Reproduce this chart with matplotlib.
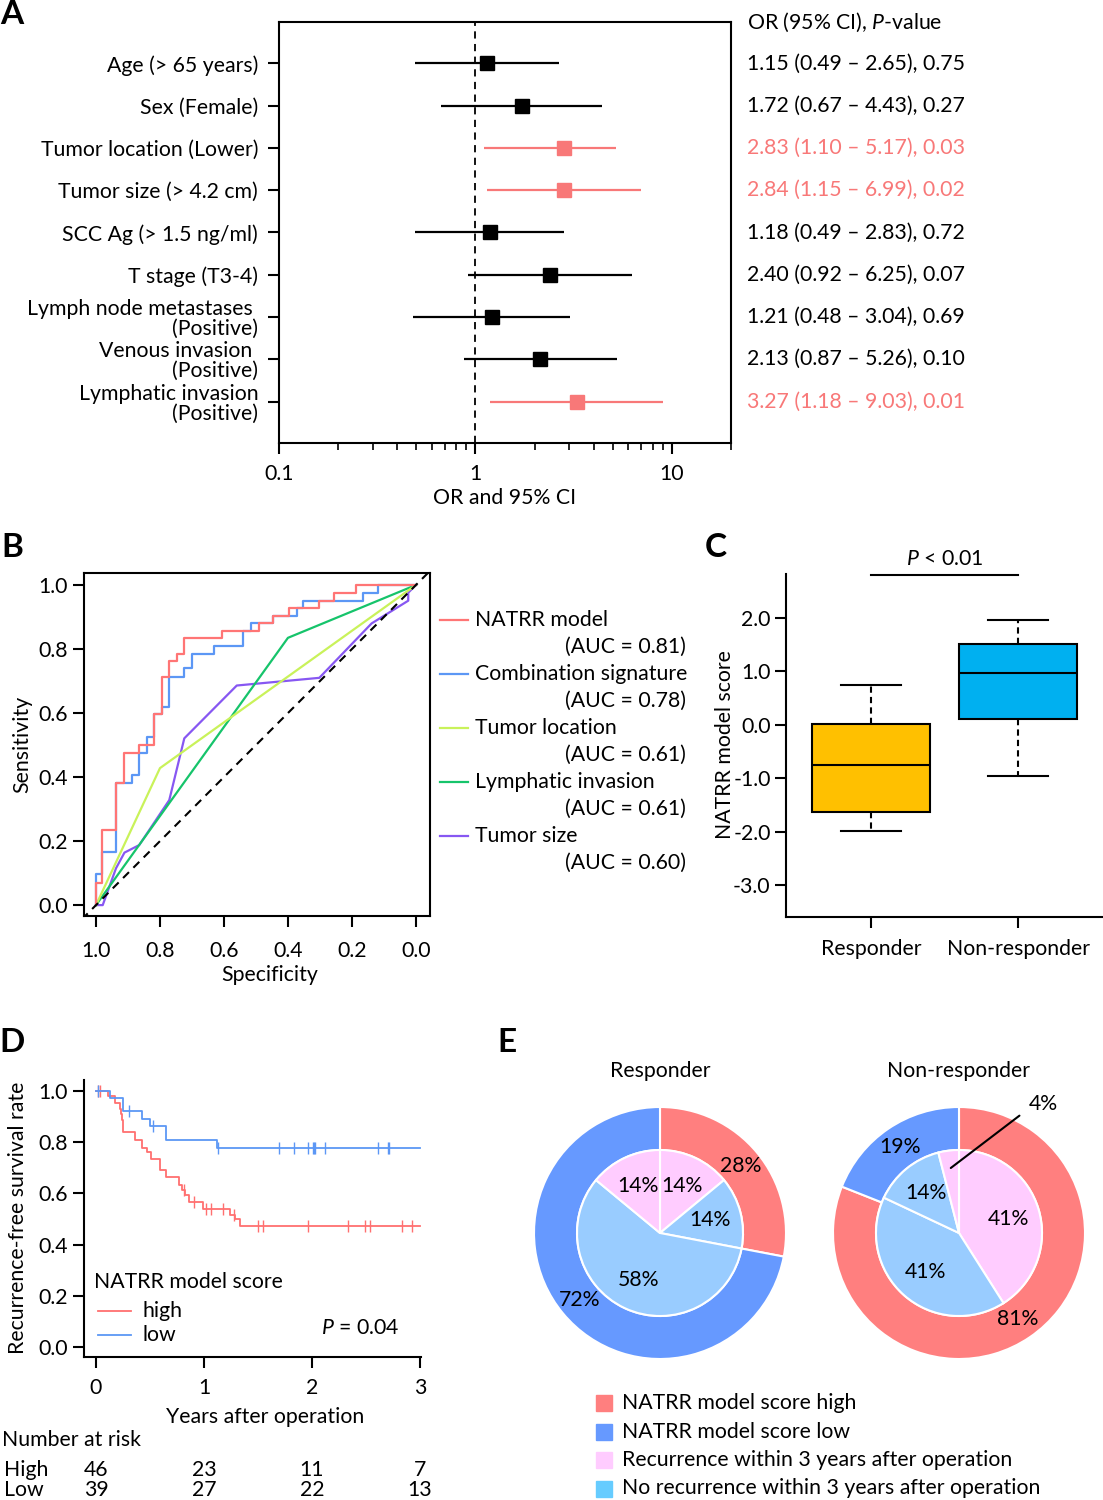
import numpy as np
import matplotlib
matplotlib.use('Agg')
import matplotlib.pyplot as plt
import matplotlib.transforms as mtransforms
from matplotlib.lines import Line2D
from matplotlib.patches import Rectangle

plt.rcParams['font.family'] = ['Lato', 'DejaVu Sans']
plt.rcParams['font.size'] = 15.3
plt.rcParams['mathtext.fontset'] = 'custom'
plt.rcParams['mathtext.rm'] = 'Lato'
plt.rcParams['mathtext.it'] = 'Lato:italic'
plt.rcParams['axes.linewidth'] = 1.5

# ---------------- data ----------------
# A: univariate odds ratios
factors = ['Age (> 65 years)', 'Sex (Female)', 'Tumor location (Lower)',
           'Tumor size (> 4.2 cm)', 'SCC Ag (> 1.5 ng/ml)', 'T stage (T3-4)',
           'Lymph node metastases \n(Positive)', 'Venous invasion \n(Positive)',
           'Lymphatic invasion\n(Positive)']
odds = [1.15, 1.72, 2.83, 2.84, 1.18, 2.40, 1.21, 2.13, 3.27]
ci_low = [0.49, 0.67, 1.10, 1.15, 0.49, 0.92, 0.48, 0.87, 1.18]
ci_high = [2.65, 4.43, 5.17, 6.99, 2.83, 6.25, 3.04, 5.26, 9.03]
pvals = ['0.75', '0.27', '0.03', '0.02', '0.72', '0.07', '0.69', '0.10', '0.01']

# B: ROC curves (false positive rate, sensitivity)
roc_names = ['NATRR model', 'Combination signature', 'Tumor location',
             'Lymphatic invasion', 'Tumor size']
roc_auc = ['0.81', '0.78', '0.61', '0.61', '0.60']
roc_colors = ['#ff7575', '#5c97f5', '#c9f25a', '#16c46b', '#8757f2']
natrr_fpr = [0, 0, 0.018, 0.0625, 0.089, 0.135, 0.181, 0.205, 0.229, 0.252,
             0.276, 0.393, 0.51, 0.554, 0.603, 0.698, 0.744, 0.8125, 1.0]
natrr_sens = [0, 0.07, 0.236, 0.38, 0.476, 0.5, 0.596, 0.714, 0.7625, 0.786,
              0.833, 0.857, 0.88, 0.904, 0.927, 0.951, 0.976, 1.0, 1.0]
comb_fpr = [0, 0, 0.018, 0.0625, 0.111, 0.135, 0.158, 0.181, 0.205, 0.229, 0.276,
            0.299, 0.370, 0.46, 0.483, 0.554, 0.627, 0.648, 0.835, 0.882, 1.0]
comb_sens = [0, 0.096, 0.167, 0.38, 0.406, 0.476, 0.524, 0.596, 0.62, 0.714, 0.74,
             0.786, 0.81, 0.857, 0.88, 0.904, 0.927, 0.951, 0.976, 1.0, 1.0]
loc_fpr = [0, 0.2, 1.0]
loc_sens = [0, 0.428, 1.0]
lymph_fpr = [0, 0.6, 1.0]
lymph_sens = [0, 0.835, 1.0]
size_fpr = [0, 0.021, 0.0625, 0.089, 0.135, 0.229, 0.276, 0.44, 0.698, 0.8615,
            0.976, 0.976, 1.0]
size_sens = [0, 0, 0.115, 0.164, 0.1875, 0.328, 0.521, 0.686, 0.71, 0.88,
             0.951, 0.976, 1.0]

# C: NATRR model score boxplot
box_groups = ['Responder', 'Non-responder']
box_q1 = [-1.63, 0.10]
box_med = [-0.75, 0.96]
box_q3 = [0.02, 1.51]
box_lo = [-1.99, -0.955]
box_hi = [0.74, 1.955]
box_colors = ['#ffc000', '#00b0f0']

# D: Kaplan-Meier recurrence-free survival
high_event_t = [0.114, 0.176, 0.222, 0.232, 0.243, 0.253, 0.361, 0.423, 0.469, 0.506,
                0.593, 0.648, 0.769, 0.793, 0.824, 0.861, 0.994, 1.241, 1.287, 1.333]
high_surv = [0.979, 0.955, 0.93, 0.91, 0.885, 0.84, 0.81, 0.779, 0.762, 0.736,
             0.691, 0.665, 0.632, 0.613, 0.594, 0.568, 0.538, 0.516, 0.5, 0.473]
high_cens = [0.022, 0.037, 0.815, 0.907, 1.019, 1.062, 1.173, 1.278, 1.503, 1.543,
             1.966, 2.336, 2.49, 2.537, 2.83, 2.923]
low_event_t = [0.13, 0.253, 0.423, 0.5, 0.648, 1.117]
low_surv = [0.974, 0.922, 0.892, 0.862, 0.808, 0.778]
low_cens = [0.02, 0.305, 0.525, 1.133, 1.691, 1.836, 1.966, 2.012, 2.022, 2.031,
            2.12, 2.614, 2.707, 2.716]
follow_up_end = 3.0
risk_times = [0, 1, 2, 3]
risk_high = [46, 23, 11, 7]
risk_low = [39, 27, 22, 13]

# E: nested pies
resp_outer = [28, 72]
resp_inner = [14, 14, 58, 14]
nonresp_outer = [81, 19]
nonresp_inner = [41, 41, 14, 4]
outer_colors = ['#ff7f7f', '#6699ff']
inner_colors = ['#ffccff', '#99ccff', '#99ccff', '#ffccff']
legend_E = ['NATRR model score high', 'NATRR model score low',
            'Recurrence within 3 years after operation',
            'No recurrence within 3 years after operation']
legend_E_colors = ['#ff7f7f', '#6699ff', '#ffccff', '#66ccff']

RED = '#f87878'
W, H = 1103, 1500
fig = plt.figure(figsize=(W / 100, H / 100), dpi=100)


def rect(l, t, r, b):
    return [l / W, 1 - b / H, (r - l) / W, (b - t) / H]


def ftxt(x, y, s, **kw):
    kw.setdefault('va', 'center')
    return fig.text(x / W, 1 - y / H, s, **kw)


# ---------------- A ----------------
axA = fig.add_axes(rect(279, 22, 731, 443))
rows = np.arange(len(factors))
for i in rows:
    c = RED if float(pvals[i]) < 0.05 else 'black'
    axA.plot([ci_low[i], ci_high[i]], [i, i], color=c, lw=1.6, solid_capstyle='butt')
    axA.plot(odds[i], i, 's', color=c, ms=9.5)
axA.axvline(1, color='black', ls=(0, (4, 3)), lw=1.3)
axA.set_xscale('log')
axA.set_xlim(0.1, 20)
axA.set_ylim(len(factors) - 0.02, -0.98)
axA.set_xticks([0.1, 1, 10])
axA.set_xticklabels(['0.1', '1', '10'])
axA.set_yticks(rows)
axA.set_yticklabels(factors, linespacing=1.0)
axA.tick_params(axis='both', which='major', direction='out', length=8, width=1.5, pad=7)
axA.tick_params(axis='x', which='minor', direction='out', length=5, width=1.2)
axA.tick_params(axis='y', which='minor', left=False)
trA = mtransforms.blended_transform_factory(fig.transFigure, axA.transData)
for i in rows:
    c = RED if float(pvals[i]) < 0.05 else 'black'
    axA.text(747 / W, i, f'{odds[i]:.2f} ({ci_low[i]:.2f} – {ci_high[i]:.2f}), {pvals[i]}',
             transform=trA, color=c, va='center', ha='left')
ftxt(747, 22, 'OR (95% CI), $P$-value', ha='left')
ftxt(505, 498, 'OR and 95% CI', ha='center')

# ---------------- B ----------------
axB = fig.add_axes(rect(84, 573, 430, 916))
roc_curves = [(natrr_fpr, natrr_sens, 'steps-post'), (comb_fpr, comb_sens, 'steps-post'),
              (loc_fpr, loc_sens, 'default'), (lymph_fpr, lymph_sens, 'default'),
              (size_fpr, size_sens, 'default')]
for k in [4, 3, 2, 1, 0]:
    fpr, sens, ds = roc_curves[k]
    axB.plot(1 - np.array(fpr), sens, color=roc_colors[k], lw=1.6, drawstyle=ds)
axB.axline((1, 0), (0, 1), color='black', ls=(0, (4, 3)), lw=1.5)
axB.set_xlim(1.0375, -0.044)
axB.set_ylim(-0.034, 1.0375)
ticksB = np.arange(0, 1.01, 0.2)
axB.set_xticks(ticksB)
axB.set_xticklabels([f'{t:.1f}' for t in ticksB])
axB.set_yticks(ticksB)
axB.set_yticklabels([f'{t:.1f}' for t in ticksB])
axB.tick_params(direction='out', length=8, width=1.5)
axB.tick_params(axis='x', pad=10)
ftxt(270, 975, 'Specificity', ha='center')
ftxt(22, 744, 'Sensitivity', ha='center', rotation=90)
for k, name in enumerate(roc_names):
    y0 = 620 + 54 * k
    fig.add_artist(Line2D([440 / W, 468 / W], [1 - y0 / H, 1 - y0 / H],
                          color=roc_colors[k], lw=1.6))
    ftxt(475, y0, name, ha='left')
    ftxt(686, y0 + 27, f'(AUC = {roc_auc[k]})', ha='right')

# ---------------- C ----------------
axC = fig.add_axes(rect(786, 574, 1103, 917))
stats = [dict(label=g, q1=box_q1[i], med=box_med[i], q3=box_q3[i],
              whislo=box_lo[i], whishi=box_hi[i], fliers=[])
         for i, g in enumerate(box_groups)]
bp = axC.bxp(stats, positions=[1, 2], widths=0.8, capwidths=0.41, patch_artist=True,
             boxprops=dict(lw=1.5), medianprops=dict(color='black', lw=1.5),
             whiskerprops=dict(ls=(0, (3, 2)), lw=1.5), capprops=dict(lw=1.5))
for patch, c in zip(bp['boxes'], box_colors):
    patch.set_facecolor(c)
axC.set_xlim(0.422, 2.578)
axC.set_ylim(-3.6, 2.82)
axC.set_yticks([2, 1, 0, -1, -2, -3])
axC.set_yticklabels(['2.0', '1.0', '0.0', '-1.0', '-2.0', '-3.0'])
axC.spines['top'].set_visible(False)
axC.spines['right'].set_visible(False)
axC.tick_params(direction='out', length=8, width=1.5, pad=3)
axC.tick_params(axis='x', pad=8)
axC.plot([1, 2], [2.8, 2.8], color='black', lw=1.5, clip_on=False)
axC.text(1.5, 3.1, '$P$ < 0.01', ha='center', va='center')
ftxt(725, 745, 'NATRR model score', ha='center', rotation=90)

# ---------------- D ----------------
axD = fig.add_axes(rect(84, 1080, 421, 1357))
for ev, sv, cens, c in [(high_event_t, high_surv, high_cens, '#ff7070'),
                        (low_event_t, low_surv, low_cens, '#5c97f5')]:
    tt = np.concatenate([[0], ev, [follow_up_end]])
    ss = np.concatenate([[1.0], sv, [sv[-1]]])
    axD.plot(tt, ss, drawstyle='steps-post', color=c, lw=1.3)
    cs = ss[np.searchsorted(tt, cens, side='right') - 1]
    axD.plot(cens, cs, '|', color=c, ms=8, mew=1.0)
axD.set_xlim(-0.111, 3.01)
axD.set_ylim(-0.039, 1.043)
axD.set_xticks(risk_times)
axD.set_yticks(np.arange(0, 1.01, 0.2))
axD.set_yticklabels([f'{t:.1f}' for t in np.arange(0, 1.01, 0.2)])
axD.spines['top'].set_visible(False)
axD.spines['right'].set_visible(False)
axD.tick_params(direction='out', length=8, width=1.5)
axD.tick_params(axis='x', pad=7)
ftxt(265, 1417, 'Years after operation', ha='center')
ftxt(18, 1218, 'Recurrence-free survival rate', ha='center', rotation=90)
ftxt(94, 1282, 'NATRR model score', ha='left')
for y0, c, lab in [(1311, '#ff7070', 'high'), (1335, '#5c97f5', 'low')]:
    fig.add_artist(Line2D([98 / W, 131 / W], [1 - y0 / H, 1 - y0 / H], color=c, lw=1.3))
    ftxt(143, y0, lab, ha='left')
ftxt(360, 1328, '$P$ = 0.04', ha='center')
trD = mtransforms.blended_transform_factory(axD.transData, fig.transFigure)
ftxt(2, 1440, 'Number at risk', ha='left')
ftxt(4, 1470, 'High', ha='left')
ftxt(4, 1490, 'Low', ha='left')
for t, nh, nl in zip(risk_times, risk_high, risk_low):
    fig.text(t, 1 - 1470 / H, str(nh), transform=trD, ha='center', va='center')
    fig.text(t, 1 - 1490 / H, str(nl), transform=trD, ha='center', va='center')

# ---------------- E ----------------
R_out, R_in = 126, 83
for cx, title, outer, inner in [(660, 'Responder', resp_outer, resp_inner),
                                (959, 'Non-responder', nonresp_outer, nonresp_inner)]:
    ax = fig.add_axes(rect(cx - R_out, 1233 - R_out, cx + R_out, 1233 + R_out))
    wp = dict(edgecolor='white', linewidth=1.5)
    ax.pie(outer, radius=1, colors=outer_colors, startangle=90, counterclock=False,
           wedgeprops=dict(width=1 - R_in / R_out, **wp),
           autopct='%1.0f%%', pctdistance=0.83, textprops=dict(fontsize=15.3))
    ax.pie(inner, radius=R_in / R_out, colors=inner_colors, startangle=90,
           counterclock=False, wedgeprops=wp,
           autopct=lambda p: f'{p:.0f}%' if p > 5 else '', pctdistance=0.62,
           textprops=dict(fontsize=15.3))
    ax.set_xlim(-1, 1)
    ax.set_ylim(-1, 1)
    ax.set_aspect('equal')
    ftxt(cx, 1071, title, ha='center')
    small = [k for k, v in enumerate(inner) if v <= 5]
    for k in small:
        mid = 90 - 3.6 * (sum(inner[:k]) + inner[k] / 2)
        r = 0.52
        ax.annotate(f'{inner[k]}%', xy=(r * np.cos(np.radians(mid)), r * np.sin(np.radians(mid))),
                    xytext=(0.67, 1.02), ha='center', va='center', fontsize=15.3,
                    annotation_clip=False,
                    arrowprops=dict(arrowstyle='-', color='black', lw=1.5,
                                    shrinkA=6, shrinkB=0, relpos=(0, 0.3)))

for k, (lab, c) in enumerate(zip(legend_E, legend_E_colors)):
    y0 = 1403 + 28.5 * k
    fig.add_artist(Rectangle((596 / W, 1 - (y0 + 8) / H), 16 / W, 16 / H,
                             transform=fig.transFigure, color=c))
    ftxt(622, y0, lab, ha='left')

# panel letters
for lab, x, y in [('A', 12, 15), ('B', 12, 548), ('C', 716, 548), ('D', 12, 1043), ('E', 507, 1043)]:
    ftxt(x, y, lab, ha='center', fontsize=24, fontweight='bold')

fig.savefig('out.png', dpi=100)
